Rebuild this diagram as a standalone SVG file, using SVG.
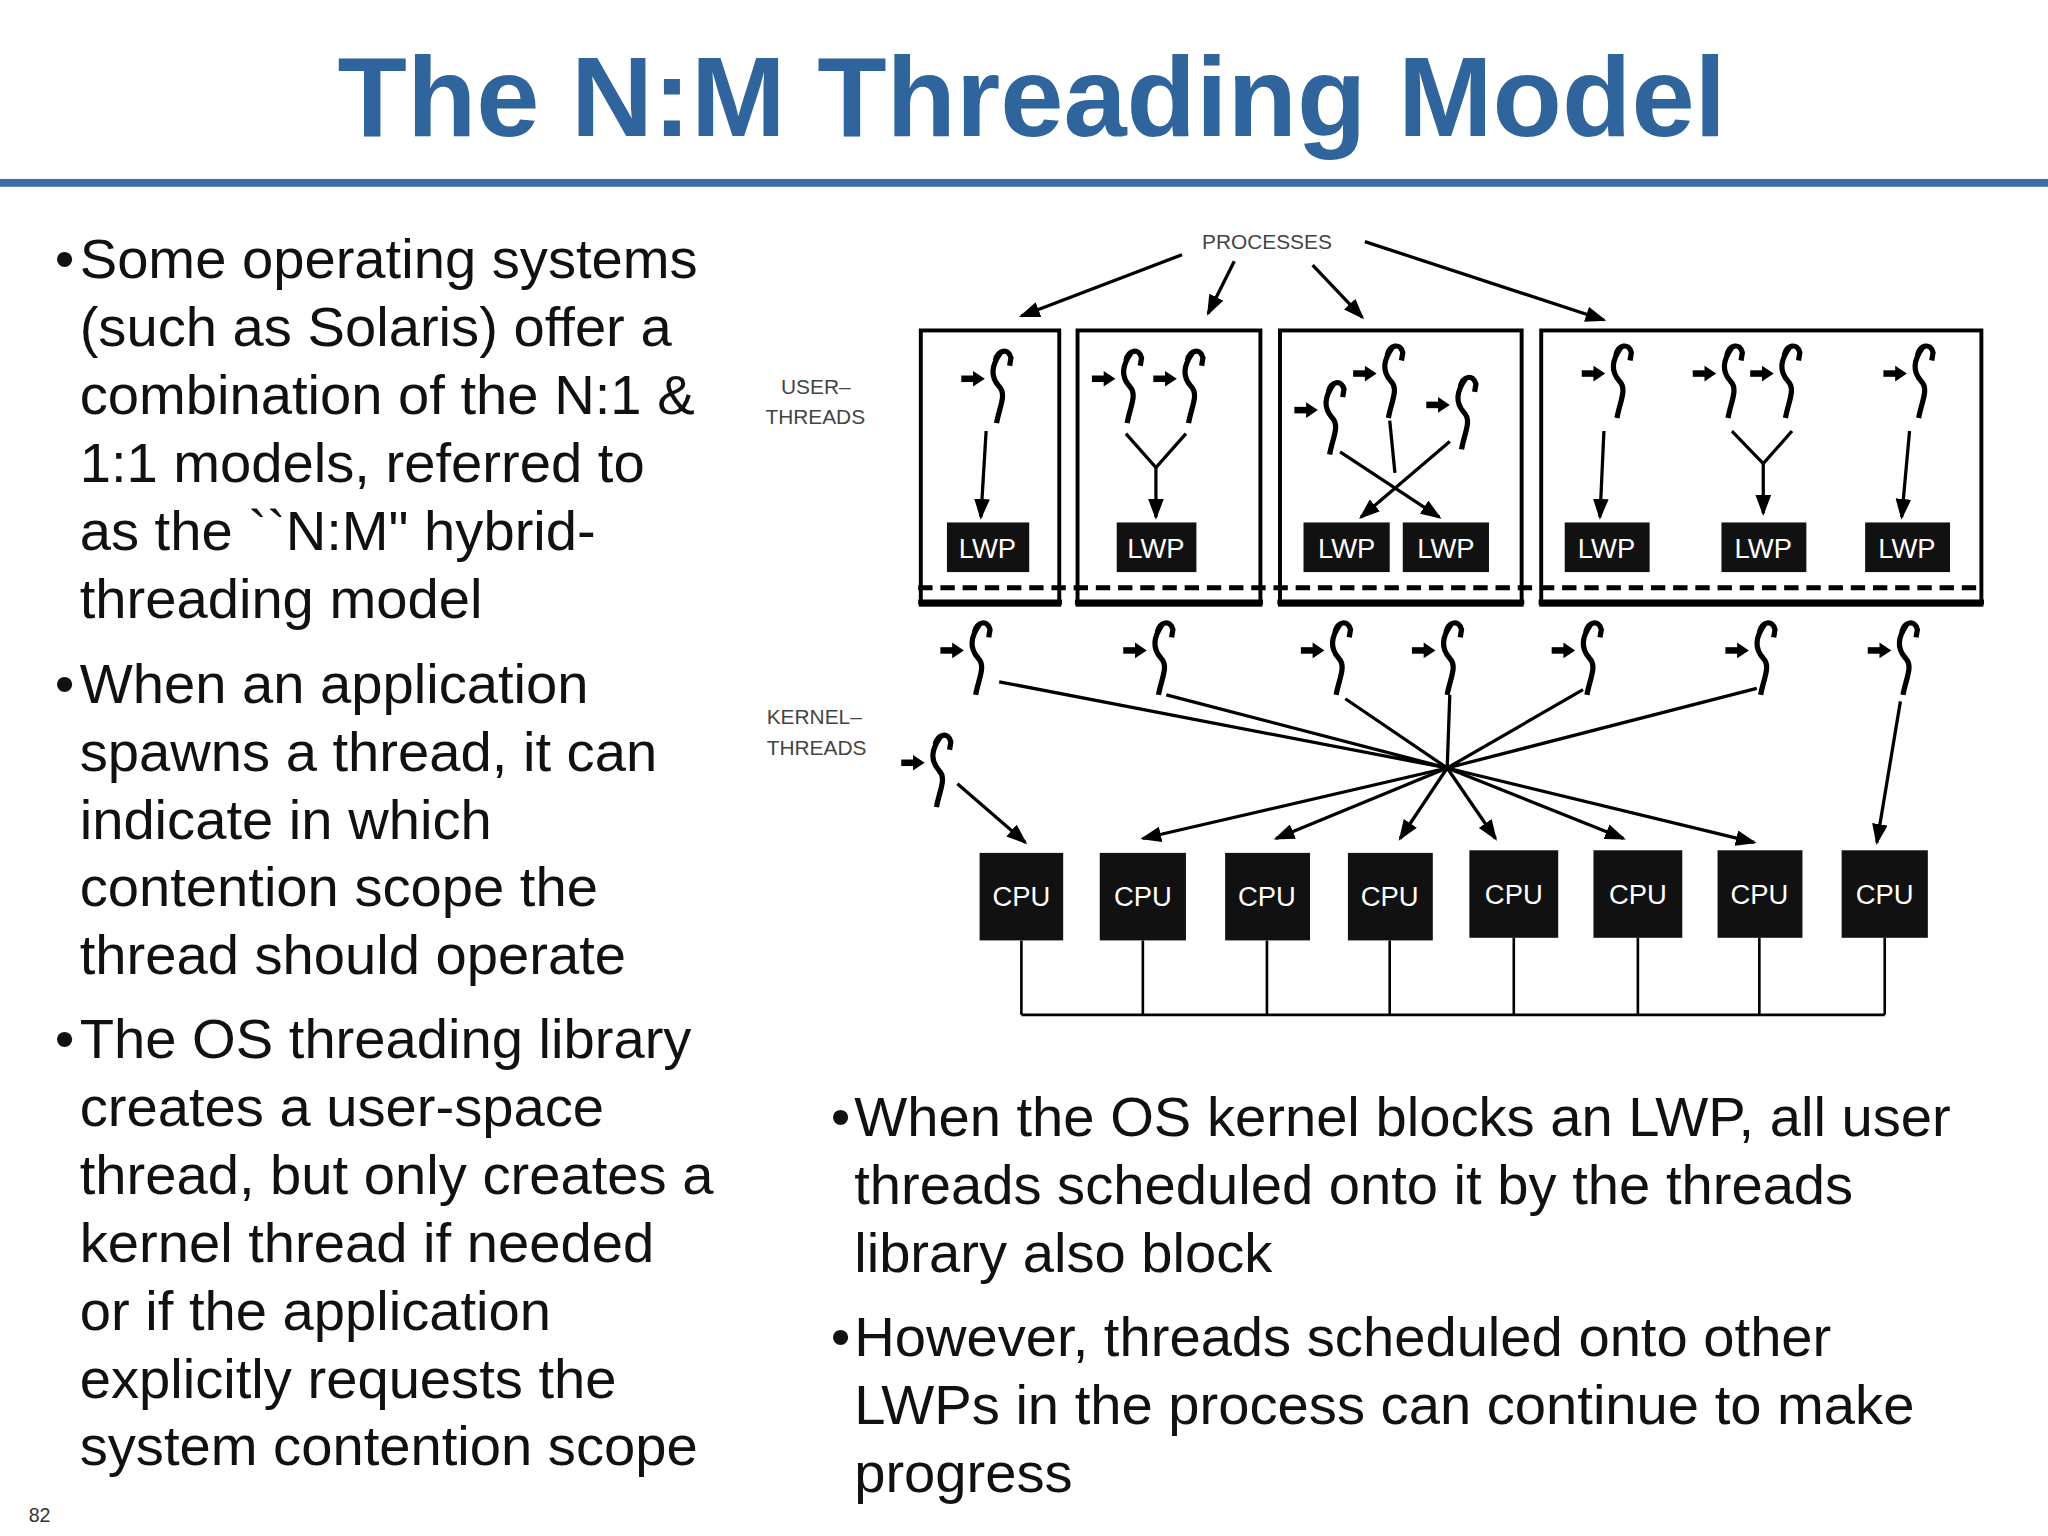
<svg xmlns="http://www.w3.org/2000/svg" xmlns:xlink="http://www.w3.org/1999/xlink" width="2048" height="1536" viewBox="0 0 2048 1536">
<style>
.t{font-family:"Liberation Sans",Arial,sans-serif;fill:#111;font-size:43px}
.ttl{font-family:"Liberation Sans",Arial,sans-serif;font-weight:bold;fill:#2F659C;font-size:87px}
.lbl{font-family:"Liberation Sans",Arial,sans-serif;fill:#444;font-size:16px}
.box{fill:#111}
.wt{font-family:"Liberation Sans",Arial,sans-serif;fill:#fff;font-size:21px;text-anchor:middle}
.pb{fill:none;stroke:#000;stroke-width:3}
.ln{stroke:#000;stroke-width:2.5;fill:none}
.la{stroke:#000;stroke-width:2.5;fill:none;marker-end:url(#ah)}
.bus{stroke:#000;stroke-width:2;fill:none}
</style>
<defs>
<marker id="ah" markerWidth="16" markerHeight="12" refX="14" refY="6" orient="auto" markerUnits="userSpaceOnUse">
<path d="M0,0 L16,6 L0,12 Z" fill="#000"/>
</marker>
<g id="th">
<path d="M-22,22 L-12,22" stroke="#000" stroke-width="5"/>
<path d="M-13,16 L-4,22 L-13,28 Z" fill="#000"/>
<path d="M4,8 C6,0 14,-2 16,6 L15,12 M8,2 C1,12 0,20 7,28 C13,34 7,44 5,56" fill="none" stroke="#000" stroke-width="4"/>
</g>
</defs>
<rect width="2048" height="1536" fill="#fff"/>
<g transform="scale(1.30612)">
<g id="title">
<text class="ttl" x="790" y="104" text-anchor="middle">The N:M Threading Model</text>
<rect x="0" y="137" width="1568" height="6" fill="#3A6EA5"/>
</g>
<g id="left-text">
<text class="t" x="42" y="213">•</text>
<text class="t" x="61" y="213">Some operating systems</text>
<text class="t" x="61" y="265">(such as Solaris) offer a</text>
<text class="t" x="61" y="317">combination of the N:1 &amp;</text>
<text class="t" x="61" y="369">1:1 models, referred to</text>
<text class="t" x="61" y="421">as the ``N:M" hybrid-</text>
<text class="t" x="61" y="473">threading model</text>
<text class="t" x="42" y="538">•</text>
<text class="t" x="61" y="538">When an application</text>
<text class="t" x="61" y="590">spawns a thread, it can</text>
<text class="t" x="61" y="642">indicate in which</text>
<text class="t" x="61" y="694">contention scope the</text>
<text class="t" x="61" y="746">thread should operate</text>
<text class="t" x="42" y="810">•</text>
<text class="t" x="61" y="810">The OS threading library</text>
<text class="t" x="61" y="862">creates a user-space</text>
<text class="t" x="61" y="914">thread, but only creates a</text>
<text class="t" x="61" y="966">kernel thread if needed</text>
<text class="t" x="61" y="1018">or if the application</text>
<text class="t" x="61" y="1070">explicitly requests the</text>
<text class="t" x="61" y="1122">system contention scope</text>
</g>
<g id="right-text">
<text class="t" x="636" y="870">•</text>
<text class="t" x="654" y="870">When the OS kernel blocks an LWP, all user</text>
<text class="t" x="654" y="922">threads scheduled onto it by the threads</text>
<text class="t" x="654" y="974">library also block</text>
<text class="t" x="636" y="1038">•</text>
<text class="t" x="654" y="1038">However, threads scheduled onto other</text>
<text class="t" x="654" y="1090">LWPs in the process can continue to make</text>
<text class="t" x="654" y="1142">progress</text>
</g>
<text id="page" x="22" y="1165" style="font-family:'Liberation Sans',Arial,sans-serif;font-size:15px;fill:#333">82</text>
<g id="labels">
<text class="lbl" x="970" y="191" text-anchor="middle">PROCESSES</text>
<text class="lbl" x="598" y="302">USER–</text>
<text class="lbl" x="586" y="325">THREADS</text>
<text class="lbl" x="587" y="554">KERNEL–</text>
<text class="lbl" x="587" y="578">THREADS</text>
</g>
<g id="processes">
<rect class="pb" x="705" y="253" width="106" height="210"/>
<rect class="pb" x="825" y="253" width="140" height="210"/>
<rect class="pb" x="980" y="253" width="185" height="210"/>
<rect class="pb" x="1180" y="253" width="337" height="210"/>
<path d="M703,461 H813 M823,461 H967 M978,461 H1167 M1178,461 H1519" stroke="#000" stroke-width="4"/>
<path d="M703,450 H1519" stroke="#000" stroke-width="4" stroke-dasharray="11,6"/>
</g>
<g id="lwps">
<rect class="box" x="725" y="400" width="63" height="38"/><text class="wt" x="756" y="427">LWP</text>
<rect class="box" x="855" y="400" width="61" height="38"/><text class="wt" x="885" y="427">LWP</text>
<rect class="box" x="998" y="400" width="66" height="38"/><text class="wt" x="1031" y="427">LWP</text>
<rect class="box" x="1074" y="400" width="66" height="38"/><text class="wt" x="1107" y="427">LWP</text>
<rect class="box" x="1198" y="400" width="65" height="38"/><text class="wt" x="1230" y="427">LWP</text>
<rect class="box" x="1318" y="400" width="65" height="38"/><text class="wt" x="1350" y="427">LWP</text>
<rect class="box" x="1428" y="400" width="65" height="38"/><text class="wt" x="1460" y="427">LWP</text>
</g>
<g id="cpus">
<rect class="box" x="750" y="653" width="64" height="67"/><text class="wt" x="782" y="694">CPU</text>
<rect class="box" x="842" y="653" width="66" height="67"/><text class="wt" x="875" y="694">CPU</text>
<rect class="box" x="938" y="653" width="65" height="67"/><text class="wt" x="970" y="694">CPU</text>
<rect class="box" x="1032" y="653" width="65" height="67"/><text class="wt" x="1064" y="694">CPU</text>
<rect class="box" x="1125" y="651" width="68" height="67"/><text class="wt" x="1159" y="692">CPU</text>
<rect class="box" x="1220" y="651" width="68" height="67"/><text class="wt" x="1254" y="692">CPU</text>
<rect class="box" x="1315" y="651" width="65" height="67"/><text class="wt" x="1347" y="692">CPU</text>
<rect class="box" x="1410" y="651" width="66" height="67"/><text class="wt" x="1443" y="692">CPU</text>
</g>
<g id="threads">
<use xlink:href="#th" x="758" y="268"/>
<use xlink:href="#th" x="858" y="268"/>
<use xlink:href="#th" x="905" y="268"/>
<use xlink:href="#th" x="1013" y="292"/>
<use xlink:href="#th" x="1058" y="264"/>
<use xlink:href="#th" x="1114" y="288"/>
<use xlink:href="#th" x="1233" y="264"/>
<use xlink:href="#th" x="1318" y="264"/>
<use xlink:href="#th" x="1362" y="264"/>
<use xlink:href="#th" x="1464" y="264"/>
<use xlink:href="#th" x="742" y="476"/>
<use xlink:href="#th" x="882" y="476"/>
<use xlink:href="#th" x="1018" y="476"/>
<use xlink:href="#th" x="1103" y="476"/>
<use xlink:href="#th" x="1210" y="476"/>
<use xlink:href="#th" x="1343" y="476"/>
<use xlink:href="#th" x="1452" y="476"/>
<use xlink:href="#th" x="712" y="562"/>
</g>
<g id="connectors">
<path class="la" d="M905,195 L782,242"/>
<path class="la" d="M945,200 L925,240"/>
<path class="la" d="M1005,203 L1043,243"/>
<path class="la" d="M1045,185 L1228,245"/>
<path class="la" d="M755,330 L751,396"/>
<path class="ln" d="M862,332 L885,358 L908,332"/>
<path class="la" d="M885,358 L885,396"/>
<path class="la" d="M1026,346 L1102,396"/>
<path class="la" d="M1110,338 L1042,396"/>
<path class="ln" d="M1064,322 L1068,362"/>
<path class="la" d="M1228,330 L1225,396"/>
<path class="ln" d="M1326,330 L1350,355 L1372,330"/>
<path class="la" d="M1350,355 L1350,393"/>
<path class="la" d="M1462,330 L1456,396"/>
<path class="ln" d="M765,522 L1108,588 M893,532 L1108,588 M1030,535 L1108,588 M1110,532 L1108,588 M1212,528 L1108,588 M1345,527 L1108,588"/>
<path class="la" d="M1455,537 L1437,645"/>
<path class="la" d="M733,600 L785,645"/>
<path class="la" d="M1108,588 L875,642"/>
<path class="la" d="M1108,588 L977,642"/>
<path class="la" d="M1108,588 L1072,642"/>
<path class="la" d="M1108,588 L1145,642"/>
<path class="la" d="M1108,588 L1243,642"/>
<path class="la" d="M1108,588 L1343,645"/>
<path class="bus" d="M782,720 V777 M875,720 V777 M970,720 V777 M1064,720 V777 M1159,718 V777 M1254,718 V777 M1347,718 V777 M1443,718 V777 M782,777 H1443"/>
</g>
</g>
</svg>
